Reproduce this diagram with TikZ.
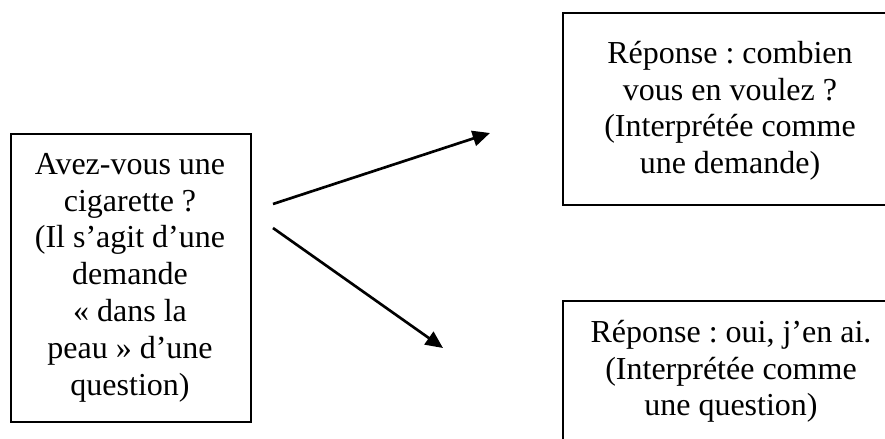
\documentclass[tikz,border=0pt]{standalone}
\usepackage{fontspec}
\setmainfont{Liberation Serif}
\usetikzlibrary{arrows.meta}
\frenchspacing
\begin{document}
\begin{tikzpicture}[x=0.375pt,y=-0.375pt,
  frame/.style={draw, line width=0.7pt, inner sep=0pt, anchor=north west},
  words/.style={align=center, inner sep=0pt, anchor=north,
    font=\fontsize{12}{13.8}\selectfont},
  link/.style={line width=1pt, -{Triangle[length=6.5pt,width=5.8pt]}}]
\useasboundingbox (0,0) rectangle (885,439);

% the question, on the left
\node[frame, minimum width=90pt, minimum height=108pt] (qbox) at (10,133) {};
\node[words] (qtext) at (130,148) {\strut Avez-vous une\\cigarette ?\\(Il s’agit d’une\\demande\\«~dans la\\peau~» d’une\\question)};

% the two readings, on the right
\node[frame, minimum width=126pt, minimum height=72pt] (abox) at (562,12) {};
\node[words] (atext) at (730,37) {\strut Réponse : combien\\vous en voulez ?\\(Interprétée comme\\une demande)};

\node[frame, minimum width=126pt, minimum height=70pt] (bbox) at (562,300) {};
\node[words] (btext) at (731,316) {\strut Réponse : oui, j’en ai.\\(Interprétée comme\\une question)};

% arrows from the question to each reading
\coordinate (a1s) at (273,204);
\coordinate (a1e) at (490,133);
\coordinate (a2s) at (273,228);
\coordinate (a2e) at (443,348);
\draw[link] (a1s) -- (a1e);
\draw[link] (a2s) -- (a2e);
\end{tikzpicture}
\end{document}
